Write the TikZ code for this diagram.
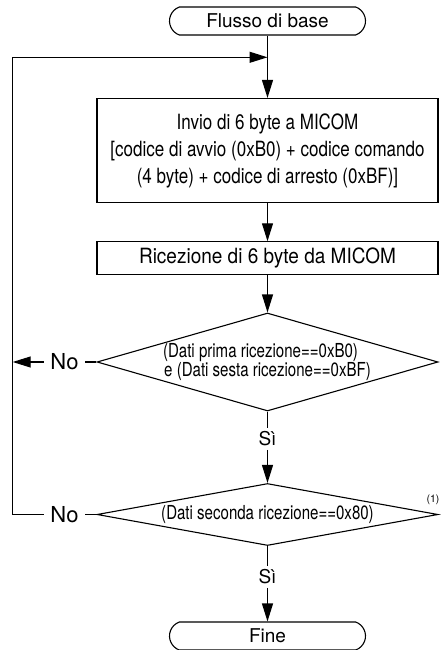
\documentclass[tikz,border=0pt]{standalone}
\usepackage{fontspec}
\setmainfont{TeX Gyre Heros}
\newfontfamily\sendfont[FakeStretch=0.81]{TeX Gyre Heros}
\newfontfamily\recvfont[FakeStretch=0.905]{TeX Gyre Heros}
\newfontfamily\testfont[FakeStretch=0.78]{TeX Gyre Heros}
\newcommand\tightlines{\lineskiplimit=-50pt\relax\lineskip=0pt\relax}
\usetikzlibrary{shapes.geometric,shapes.misc,arrows.meta}

\begin{document}
\begin{tikzpicture}[x=1pt,y=-1pt,
  line width=1.1pt,
  arr/.style={-{Triangle[length=18pt,width=11pt]}},
  terminal/.style={draw,rounded rectangle,rounded rectangle arc length=140,
    minimum width=196pt,minimum height=28pt,inner sep=0pt,
    font=\fontsize{19pt}{22pt}\selectfont},
  process/.style={draw,rectangle,minimum width=341pt,inner sep=0pt,align=center},
  decision/.style={draw,diamond,inner sep=0pt,minimum width=341pt,align=center,
    font=\testfont\fontsize{19.3pt}{18.6pt}\selectfont\tightlines},
  nolbl/.style={inner xsep=6pt,inner ysep=2pt,font=\fontsize{22pt}{24pt}\selectfont},
  silbl/.style={inner xsep=2pt,inner ysep=3pt,font=\fontsize{19pt}{21pt}\selectfont}
]
\useasboundingbox (0,0) rectangle (444,650);

% flow blocks
\node[terminal] (start) at (267.5,21) {Flusso di base};
\node[process,minimum height=104pt,
  font=\sendfont\fontsize{21pt}{27pt}\selectfont] (send) at (267.5,150.5)
  {Invio di 6 byte a MICOM\\{[}codice di avvio (0xB0) + codice comando\\(4 byte) + codice di arresto (0xBF)]};
\node[process,minimum height=33pt,
  font=\recvfont\fontsize{21pt}{24pt}\selectfont] (recv) at (267.5,258.3)
  {Ricezione di 6 byte da MICOM};
\node[decision,minimum height=98pt,aspect=3.5] (chk1) at (267.5,362)
  {(Dati prima ricezione==0xB0)\hspace*{14pt}\\e (Dati sesta ricezione==0xBF)};
\node[decision,minimum height=62pt,aspect=5.5] (chk2) at (267.5,514.5)
  {(Dati seconda ricezione==0x80)};
\node[terminal] (stop) at (267.5,636) {Fine};

% branch labels
\node[nolbl] (no1) at (64.5,362) {No};
\node[nolbl] (no2) at (64.5,514.5) {No};
\node[silbl] (yes1) at (267.5,439) {Sì};
\node[silbl] (yes2) at (267.5,577) {Sì};
\node[inner sep=0pt,font=\fontsize{10.5pt}{12pt}\selectfont] (note) at (433,500) {(1)};

% return path
\coordinate (join) at (267.5,57.3);
\coordinate (leftA) at (12.7,362);
\coordinate (leftB) at (12.7,514.5);
\coordinate (leftTop) at (12.7,57.3);

% connectors
\draw[arr] (start.south) -- (send.north);
\draw[arr] (send.south) -- (recv.north);
\draw[arr] (recv.south) -- (chk1.north);
\draw (chk1.south) -- (yes1.north);
\draw[arr] (yes1.south) -- (chk2.north);
\draw (chk2.south) -- (yes2.north);
\draw[arr] (yes2.south) -- (stop.north);
\draw (chk1.west) -- (no1.east);
\draw[arr] (no1.west) -- (leftA);
\draw (chk2.west) -- (no2.east);
\draw[arr] (no2.west) -- (leftB) -- (leftTop) -- (join);
\end{tikzpicture}
\end{document}
